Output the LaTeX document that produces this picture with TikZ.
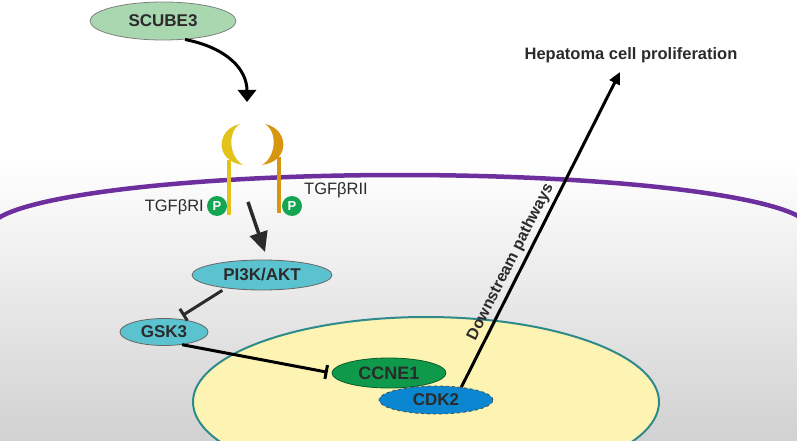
\documentclass[tikz,border=0pt]{standalone}
\usepackage{fontspec}
\setmainfont{Liberation Sans}
\usetikzlibrary{shapes.geometric,arrows.meta}
\definecolor{membrane}{HTML}{6E2F9E}
\definecolor{nucfill}{HTML}{FDF3B2}
\definecolor{nucline}{HTML}{2F8A8C}
\definecolor{scubefill}{HTML}{A9D8B0}
\definecolor{cyanfill}{HTML}{5BC3D0}
\definecolor{ccnefill}{HTML}{0E9A4A}
\definecolor{cdkfill}{HTML}{0A87D0}
\definecolor{rIcol}{HTML}{E3C21A}
\definecolor{rIIcol}{HTML}{D8950F}
\definecolor{pgreen}{HTML}{13A552}
\definecolor{txtgray}{HTML}{2B2B2B}
\newcommand{\fs}[1]{\fontsize{#1pt}{#1pt}\selectfont}

\begin{document}
\begin{tikzpicture}[x=1pt,y=-1pt,
  prot/.style={ellipse,draw=gray,line width=0.8pt,inner sep=0pt,font=\bfseries\fs{17},text=txtgray},
  phos/.style={circle,fill=pgreen,inner sep=0pt,minimum size=20pt,font=\bfseries\fs{13},text=white},
  lbl/.style={font=\fs{16.5},text=txtgray,inner sep=0pt}]
  \useasboundingbox (0,0) rectangle (797,441);
  \clip (0,0) rectangle (797,441);
  % background and membranes
  \fill[white] (0,0) rectangle (797,441);
  \shade[top color=white,bottom color=black!18] (0,160) rectangle (797,441);
  \draw[membrane,line width=4.5pt] (-10,229) arc[start angle=180,end angle=360,x radius=410,y radius=54];
  \draw[nucline,line width=2pt,fill=nucfill] (426,402) ellipse [x radius=233,y radius=85];
  % receptors
  \draw[rIcol,line width=3.5pt] (229,160) -- (229,215);
  \draw[rIIcol,line width=3.5pt] (279,157) -- (279,213);
  \fill[rIcol] (240,124) .. controls (216,129) and (214,161) .. (243,165)
    .. controls (229,157) and (227,132) .. (240,124);
  \fill[rIIcol] (265,124) .. controls (289,129) and (291,161) .. (262,165)
    .. controls (276,157) and (278,132) .. (265,124);
  \node[phos] (p1) at (217,206) {P};
  \node[phos] (p2) at (292,206) {P};
  \node[lbl,anchor=east] (tr1) at (204,207) {TGFβRI};
  \node[lbl] (tr2) at (336,190) {TGFβRII};
  % proteins
  \node[prot,fill=scubefill,minimum width=146pt,minimum height=38pt] (scube) at (163,21) {SCUBE3};
  \node[prot,fill=cyanfill,draw=gray!80!black,minimum width=140pt,minimum height=30pt] (pi3k) at (262,275) {PI3K/AKT};
  \node[prot,fill=cyanfill,draw=gray!80!black,minimum width=88pt,minimum height=27pt] (gsk3) at (164,332) {GSK3};
  \node[prot,fill=ccnefill,draw=ccnefill!60!black,minimum width=114pt,minimum height=30pt,font=\bfseries\fs{18}] (ccne1) at (389,373) {CCNE1};
  \node[prot,fill=cdkfill,draw=black!70,dashed,minimum width=114pt,minimum height=28pt] (cdk2) at (436,400) {CDK2};
  \node[font=\bfseries\fs{16.5},text=txtgray] (hep) at (631,55) {Hepatoma cell proliferation};
  \coordinate (rcp) at (247,102);
  \coordinate (rcpin) at (248,202);
  \coordinate (heptip) at (620,72);
  % connectors
  \draw[line width=3pt,-{Triangle[width=18pt,length=12pt]}] (scube.-40) .. controls (228,48) and (247,70) .. (rcp);
  \draw[txtgray,line width=3.5pt,shorten >=8pt,-{Triangle[width=18pt,length=20pt]}] (rcpin) -- (pi3k.70);
  \draw[txtgray,line width=3pt,shorten <=4pt,shorten >=6pt,-{Bar[width=14pt,line width=3pt]}] (pi3k.-160) -- (gsk3.45);
  \draw[line width=3pt,shorten >=4pt,-{Bar[width=14pt,line width=3pt]}] (gsk3.-35) -- (ccne1.west);
  \draw[line width=3pt,-{Triangle[width=11pt,length=12pt]}] (cdk2.27) -- node[sloped,above,pos=0.38,font=\bfseries\fs{16},text=txtgray] {Downstream pathways} (heptip);
\end{tikzpicture}
\end{document}
